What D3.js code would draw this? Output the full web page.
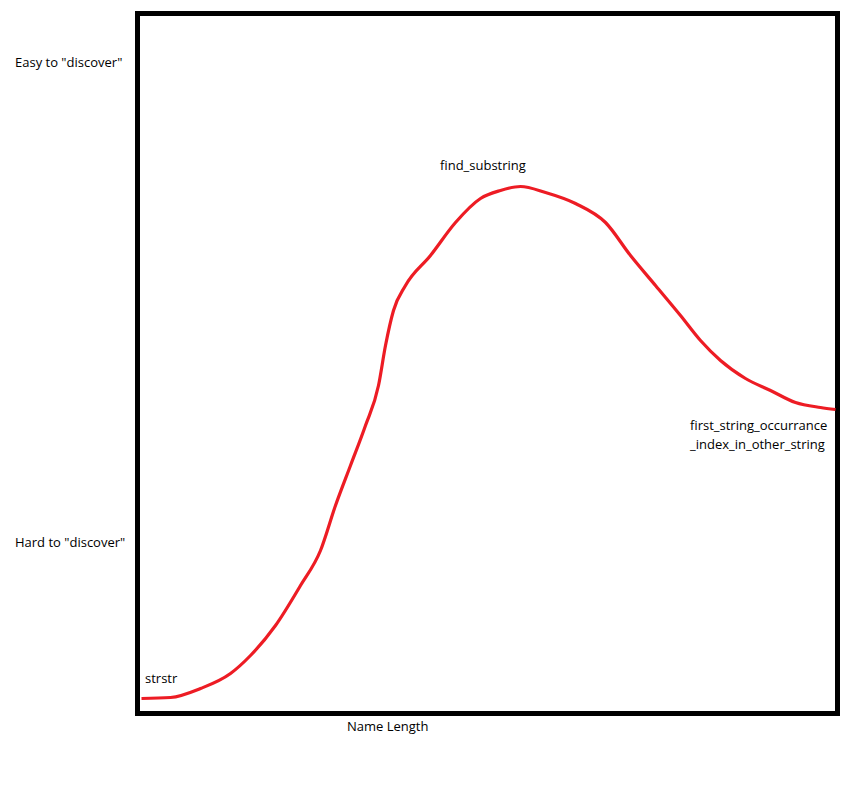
<!DOCTYPE html>
<html><head><meta charset="utf-8">
<script src="https://cdn.jsdelivr.net/npm/d3@7"></script>
<style>body{margin:0;background:#fff}svg{display:block}text{font-family:"Open Sans","Noto Sans",sans-serif;font-size:13px;fill:#000}</style>
</head><body>
<script>
const nameLength = [4,33,63,93,113,138,163,183,198,213,228,241,248,256,268,293,318,343,363,383,408,438,468,493,518,543,563,583,608,633,658,683,698];
const discoverability = [15,16,25,40,58,88,128,163,208,248,288,328,368,403,428,458,491,515,523,527,521,510,491,458,428,398,373,353,335,323,311,306,304];
const yLabels = ['Easy to "discover"','Hard to "discover"'];
const xLabel = "Name Length";
const annotations = [
  {text:["strstr"], i:0},
  {text:["find_substring"], i:19},
  {text:["first_string_occurrance","_index_in_other_string"], i:32}
];
const W=851,H=785;
const svg=d3.select("body").append("svg").attr("width",W).attr("height",H);
const x=d3.scaleLinear().domain([0,700]).range([137.5,837.5]);
const y=d3.scaleLinear().domain([0,700]).range([713.5,13.5]);
svg.append("rect").attr("x",x(0)).attr("y",y(700)).attr("width",x(700)-x(0)).attr("height",y(0)-y(700))
  .attr("fill","none").attr("stroke","#000").attr("stroke-width",5);
const pts=nameLength.map((v,i)=>[v,discoverability[i]]);
svg.append("path").datum(pts).attr("fill","none").attr("stroke","#ed1c24").attr("stroke-width",3.2)
  .attr("d",d3.line().x(d=>x(d[0])).y(d=>y(d[1])).curve(d3.curveMonotoneX));
svg.append("text").attr("x",15).attr("y",67).text(yLabels[0]);
svg.append("text").attr("x",15).attr("y",547).text(yLabels[1]);
svg.append("text").attr("x",347).attr("y",731).text(xLabel);
const ann=[{x:145,y:683},{x:440,y:170},{x:690,y:430}];
annotations.forEach((a,k)=>{
  const t=svg.append("text").attr("x",ann[k].x).attr("y",ann[k].y);
  a.text.forEach((s,j)=>t.append("tspan").attr("x",ann[k].x).attr("dy",j?19:0).text(s));
});
</script>
</body></html>
